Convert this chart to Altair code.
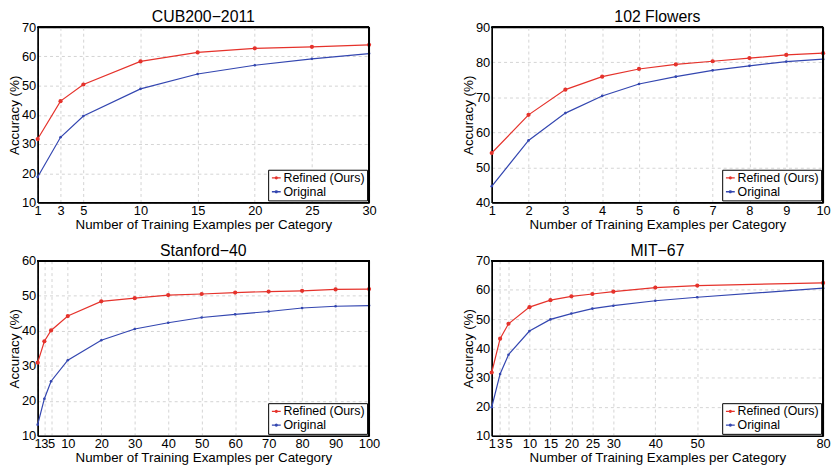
import altair as alt
import pandas as pd

series_names = ["Refined (Ours)", "Original"]
colors = ["#e5322b", "#3346b0"]
marker_sizes = [18, 7]

cub_x = [1, 3, 5, 10, 15, 20, 25, 30]
cub_refined = [31.7, 44.7, 50.4, 58.3, 61.4, 62.8, 63.3, 64.0]
cub_original = [18.7, 32.3, 39.6, 48.9, 54.0, 57.0, 59.2, 61.0]

flw_x = [1, 2, 3, 4, 5, 6, 7, 8, 9, 10]
flw_refined = [54.1, 65.0, 72.2, 75.9, 78.1, 79.4, 80.3, 81.2, 82.1, 82.6]
flw_original = [44.6, 57.7, 65.5, 70.4, 73.8, 75.9, 77.7, 79.0, 80.2, 80.9]

stf_x = [1, 3, 5, 10, 20, 30, 40, 50, 60, 70, 80, 90, 100]
stf_refined = [30.9, 37.0, 40.1, 44.2, 48.4, 49.3, 50.2, 50.5, 50.9, 51.2, 51.4, 51.8, 51.9]
stf_original = [13.2, 20.6, 25.6, 31.6, 37.3, 40.5, 42.3, 43.8, 44.7, 45.5, 46.5, 47.0, 47.2]

mit_x = [1, 3, 5, 10, 15, 20, 25, 30, 40, 50, 80]
mit_refined = [31.7, 43.3, 48.4, 54.1, 56.5, 57.8, 58.6, 59.4, 60.8, 61.5, 62.4]
mit_original = [19.8, 31.2, 37.8, 45.9, 49.9, 51.9, 53.6, 54.6, 56.3, 57.5, 60.6]

panels = [
    ("CUB200\u22122011", cub_x, cub_refined, cub_original, [10, 70], [1, 30]),
    ("102 Flowers", flw_x, flw_refined, flw_original, [40, 90], [1, 10]),
    ("Stanford\u221240", stf_x, stf_refined, stf_original, [10, 60], [1, 100]),
    ("MIT\u221267", mit_x, mit_refined, mit_original, [10, 70], [1, 80]),
]

FONT = "Liberation Sans"
W, H = 335, 177


def make_panel(title, xs, ref, orig, ydom, xdom):
    rows = []
    for x, v in zip(xs, ref):
        rows.append({"x": x, "acc": v, "series": series_names[0]})
    for x, v in zip(xs, orig):
        rows.append({"x": x, "acc": v, "series": series_names[1]})
    df = pd.DataFrame(rows)
    yticks = list(range(ydom[0], ydom[1] + 1, 10))
    xenc = alt.X(
        "x:Q",
        scale=alt.Scale(domain=xdom, nice=False, zero=False),
        axis=alt.Axis(
            values=xs, title="Number of Training Examples per Category",
            labelOverlap=False, labelFlush=False, ticks=False,
            labelPadding=2, titlePadding=0,
        ),
    )
    yenc = alt.Y(
        "acc:Q",
        scale=alt.Scale(domain=ydom, nice=False, zero=False),
        axis=alt.Axis(
            values=yticks, title="Accuracy (%)", ticks=False,
            labelPadding=2, titlePadding=0, labelFlush=False, labelOverlap=False,
        ),
    )
    cscale = alt.Scale(domain=series_names, range=colors)
    cenc = alt.Color(
        "series:N",
        scale=cscale,
        legend=alt.Legend(
            title=None, orient="bottom-right", offset=2,
            strokeColor="black", fillColor="white", padding=2,
            symbolType="M-1,0H1M-0.22,0A0.22,0.22 0 1,0 0.22,0A0.22,0.22 0 1,0 -0.22,0",
            symbolSize=80, symbolStrokeWidth=1.3, rowPadding=1,
            labelFontSize=12.5, labelFont=FONT, labelOffset=1,
        ),
    )
    base = alt.Chart(df).encode(x=xenc, y=yenc)
    line = base.mark_line(strokeWidth=1.2).encode(color=cenc)
    layers = [line]
    for name, col, sz in zip(series_names, colors, marker_sizes):
        layers.append(
            base.transform_filter(alt.datum.series == name).mark_point(
                filled=True, opacity=1, color=col, size=sz
            )
        )
    top_edge = alt.Chart(df).mark_rule(color="black", strokeWidth=1).encode(
        x=alt.value(0), x2=alt.value(W), y=alt.value(0)
    )
    right_edge = alt.Chart(df).mark_rule(color="black", strokeWidth=1).encode(
        x=alt.value(W), y=alt.value(0), y2=alt.value(H)
    )
    layers += [top_edge, right_edge]
    return alt.layer(*layers).properties(
        width=W, height=H,
        title=alt.TitleParams(title, fontSize=16, font=FONT, fontWeight="normal", offset=-4),
    )


charts = [make_panel(*p) for p in panels]
chart = alt.ConcatChart(
    concat=charts, columns=2, spacing={"column": 124, "row": 59}, bounds="flush"
).resolve_scale(
    x="independent", y="independent", color="independent"
).resolve_legend(color="independent").configure(
    background="white",
    padding={"left": -1, "top": -2, "right": 0, "bottom": 0},
).configure_view(
    stroke="black", strokeWidth=1,
).configure_axis(
    domainColor="black", domainWidth=1.6,
    gridColor="#c8c8c8", gridDash=[3, 3], gridWidth=0.8,
    labelFont=FONT, labelFontSize=13, labelColor="black",
    titleFont=FONT, titleFontSize=13.5, titleFontWeight="normal", titleColor="black",
)

chart.save("out.html", embed_options={"renderer": "svg", "actions": False})
